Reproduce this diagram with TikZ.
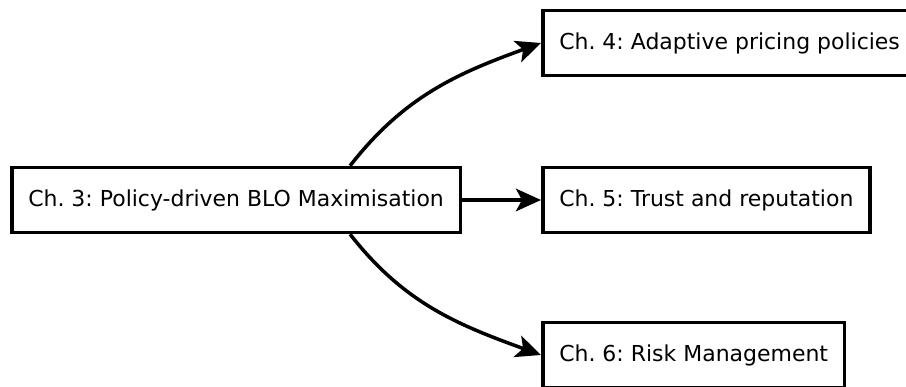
\documentclass[tikz,border=0pt]{standalone}
\usepackage{fontspec}
\setmainfont{DejaVu Sans}
\usepackage{tikz}
\usetikzlibrary{arrows.meta,positioning,calc}
\frenchspacing

\begin{document}
\begin{tikzpicture}[
    chapbox/.style={draw=black,line width=2pt,fill=white,
      minimum height=1.3cm,inner xsep=0.33cm,inner ysep=0pt,
      font=\fontsize{12.5}{14}\selectfont},
    chaplink/.style={line width=2pt,
      -{Stealth[length=0.5cm,width=0.45cm,inset=0.12cm]}}
  ]
    \useasboundingbox (0,0) rectangle (18.12,7.74);

    \node[chapbox,anchor=west] (ch3) at (0.2,3.74)
      {Ch. 3: Policy-driven BLO Maximisation};
    \node[chapbox,anchor=west] (ch4) at (10.82,6.88)
      {Ch. 4: Adaptive pricing policies};
    \node[chapbox,anchor=west] (ch5) at (10.82,3.74)
      {Ch. 5: Trust and reputation};
    \node[chapbox,anchor=west] (ch6) at (10.82,0.64)
      {Ch. 6: Risk Management};

    \draw[chaplink] ([xshift=-2.24cm]ch3.north east) to[out=52,in=200] (ch4.west);
    \draw[chaplink] (ch3.east) -- (ch5.west);
    \draw[chaplink] ([xshift=-2.24cm]ch3.south east) to[out=-52,in=160] (ch6.west);
  \end{tikzpicture}
\end{document}
